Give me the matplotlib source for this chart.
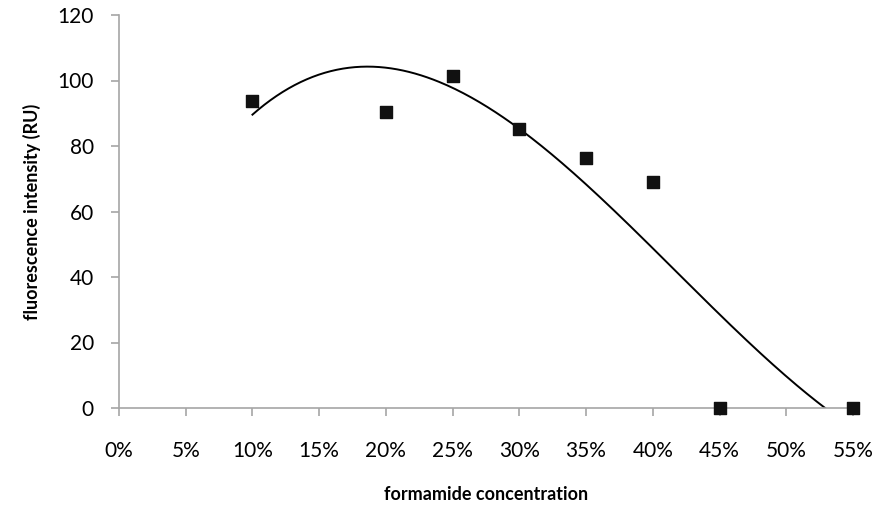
import numpy as np
import matplotlib
matplotlib.use("Agg")
import matplotlib.pyplot as plt
from matplotlib.ticker import PercentFormatter, MultipleLocator

# Data
formamide = [0.10, 0.20, 0.25, 0.30, 0.35, 0.40, 0.45, 0.55]
intensity = [93.7, 90.5, 101.3, 85.2, 76.3, 69.0, 0.0, 0.0]

plt.rcParams['font.family'] = ['Lato', 'DejaVu Sans']

fig = plt.figure(figsize=(8.81, 5.15), dpi=100)
ax = fig.add_axes([119 / 881, 1 - 408 / 515, (853 - 119) / 881, (408 - 15) / 515])

# 3rd order polynomial trendline (Excel style)
coef = np.polyfit(formamide, intensity, 3)
xs = np.linspace(min(formamide), max(formamide), 300)
ax.plot(xs, np.polyval(coef, xs), color='black', lw=1.4, zorder=2)

ax.scatter(formamide, intensity, marker='s', s=75, color='#111111', zorder=3, clip_on=False)

ax.set_xlim(0, 0.55)
ax.set_ylim(0, 120)
ax.xaxis.set_major_locator(MultipleLocator(0.05))
ax.xaxis.set_major_formatter(PercentFormatter(xmax=1, decimals=0))
ax.yaxis.set_major_locator(MultipleLocator(20))

for s in ['top', 'right']:
    ax.spines[s].set_visible(False)
for s in ['left', 'bottom']:
    ax.spines[s].set_color('#a6a6a6')
    ax.spines[s].set_linewidth(1.2)
ax.tick_params(axis='both', colors='#a6a6a6', length=6, width=1.2, labelcolor='black', labelsize=15)
ax.tick_params(axis='x', pad=18)
ax.tick_params(axis='y', pad=12)

ax.set_xlabel('formamide concentration', fontsize=13, fontweight='bold', labelpad=18)
ax.set_ylabel('fluorescence intensity (RU)', fontsize=13, fontweight='bold', labelpad=12)

fig.savefig('out.png', dpi=100)
